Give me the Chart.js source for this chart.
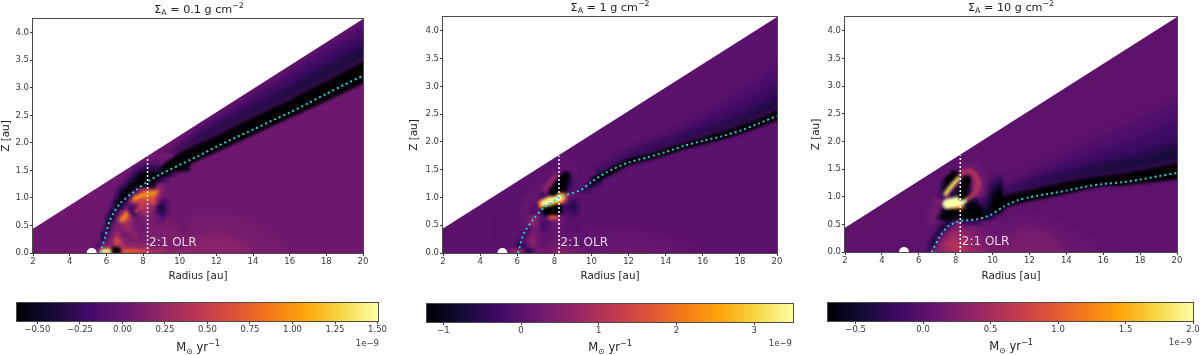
<!DOCTYPE html>
<html><head><meta charset="utf-8">
<script src="https://cdn.jsdelivr.net/npm/chart.js@4"></script>
<style>
html,body{margin:0;padding:0;background:#fff;width:1200px;height:355px;overflow:hidden}
.abs{position:absolute}
canvas{display:block}
</style></head><body>
<script>
// ---------- axes ----------
const radiusTicks=[2,4,6,8,10,12,14,16,18,20];
const heightTicks=[0,0.5,1,1.5,2,2.5,3,3.5,4];
const wedgeRadius=[2,20];
const wedgeTop=[0.44,4.25];
const olrRadius=[8.25,8.25];
const olrHeight=[0,1.75];
const planetRadius=[5.2];
const planetHeight=[0];
// ---------- colour map ----------
const infernoStops=['#000004','#160b39','#420a68','#6a176e','#932667','#bc3754','#dd513a','#f37819','#fca50a','#f6d746','#fcffa4'];
// ---------- colour bars ----------
const cbRange1=[-0.62,1.5];  const cbTicks1=[-0.5,-0.25,0,0.25,0.5,0.75,1,1.25,1.5];
const cbRange2=[-1.21,3.5];  const cbTicks2=[-1,0,1,2,3];
const cbRange3=[-0.705,2];   const cbTicks3=[-0.5,0,0.5,1,1.5,2];
// ---------- cell grids: mass flux in 1e-10 Msun/yr, columns from r=5 every 0.25 au, rows from z=0 every 0.1 au ----------
const grid1=[
[0,0,2,8,10,6,-3,4,7,7,6,6,5,4,3,3,3,2,2,2,2,2],
[0,0,-2,1,2,2,5,4,2,2,2,2,2,2,1,1,1,1,1,1,1,1],
[0,0,0,-3,0,2,6,3,1,1,1,1,1,1,1,1,1,1,1,1,1,1],
[0,0,0,-4,-1,1,3,1,0,1,2,0,1,1,1,1,1,1,1,1,1,1],
[0,0,0,-1,-4,0,1,1,2,2,1,0,0,1,1,1,1,1,1,1,0,0],
[0,0,0,0,-5,-1,1,2,3,2,0,0,0,1,1,0,0,1,1,0,0,0],
[0,0,0,0,-3,-5,1,4,6,3,0,0,1,1,1,0,-1,0,0],
[0,0,0,0,-1,-5,-2,2,4,-1,-3,1,3,2,1,-2,-3,-1,0],
[0,0,0,0,0,-2,-6,-3,0,-2,-1,3,4,3,2,-3,-4,-1,0],
[0,0,0,0,0,-1,-5,-6,-3,2,4,5,5,5,6,1,-2,-1,0],
[0,0,0,0,0,0,-2,-6,-6,-2,4,6,7,7,7,3,0,0],
[0,0,0,0,0,0,-1,-4,-6,-6,-3,2,5,4,2,4,1,0],
[0,0,0,0,0,0,0,-1,-3,-6,-6,-6,-5,-5,-5,1,1,0],
[0,0,0,0,0,0,0,0,-1,-3,-5,-6,-6,-6,-6,-5,-2,-1,0],
[0,0,0,0,0,0,0,0,0,-1,-3,-5,-6,-6,-6,-6,-6,-5,-3,-1,0,0],
[0,0,0,0,0,0,0,0,0,0,-1,-2,-3,-3,-3,-3,-2,-4,-6,-6,-6,-5],
[0,0,0,0,0,0,0,0,0,0,0,0,-1,-1,-1,-1,0,-1,-2,-3,-5,-6],
[0,0,0,0,0,0,0,0,0,0,0,0,0,0,0,0,0,0,0,-1,-2,-3]
];
const grid2=[
[0,0,3,6,8,3,-8,-2,3,2,3,4,5,5,4,4,4,3,3,2,2,2],
[0,0,0,0,-6,-4,1,5,3,1,2,3,3,3,3,2,1,1,1,1,1,1],
[0,0,0,0,-2,-1,3,6,2,1,1,1,2,2,2,1,1,1,1,1,1,1],
[0,0,0,0,0,-3,1,4,3,0,0,1,2,1,1,1,1,0,0],
[0,0,0,0,0,1,-3,2,3,-1,-1,1,1,1,0,0,0],
[0,0,0,0,0,1,3,6,4,-2,-2,0,3,2,0,0,0],
[0,0,0,0,0,1,1,7,4,0,-2,3,6,4,0,-1,-1,0],
[0,0,0,0,0,1,1,-2,0,-2,-6,-10,-10,-6,-2,-2,-4,-1,0],
[0,0,0,0,0,2,1,1,-2,-6,-8,-12,-12,-8,-3,-5,-6,-2,0],
[0,0,0,0,0,0,2,1,1,-2,8,14,14,14,6,-1,-4,-1,0],
[0,0,0,0,0,0,1,1,1,-3,-2,-6,4,14,14,1,0,0],
[0,0,0,0,0,0,0,1,1,2,3,-4,-10,-12,-10,-2,0,-2,-4,-3,0,0],
[0,0,0,0,0,0,0,0,1,1,2,3,-6,-12,-12,-5,-1,0,0,-6,-8,-3],
[0,0,0,0,0,0,0,0,0,1,1,2,3,-7,-10,-6,0,0,0,0,-6,-10],
[0,0,0,0,0,0,0,0,0,0,1,1,2,2,-4,-3,1,0,0,0,0,-4],
[0,0,0,0,0,0,0,0,0,0,0,0,0,1,1,1,1,0],
[0,0,0,0,0,0,0,0,0,0,0,0,0,0,1,1,0],
[0]
];
const grid3=[
[0,0,0,0,0,0,-3,2,3,4,5,5,6,6,5,4,4,3,3,2,2,2],
[0,0,0,0,0,0,-2,-4,3,4,5,6,6,5,4,4,3,3,2,2,2,2],
[0,0,0,0,0,0,0,-4,0,3,4,5,5,5,4,3,3,2,2,2,1,1],
[0,0,0,0,0,0,0,-1,-4,0,3,4,4,4,3,3,2,2,1,1,1,1],
[0,0,0,0,0,0,0,0,-2,-5,-1,2,3,3,2,2,2,1,1,1,1,1],
[0,0,0,0,0,0,1,1,0,-2,-5,-2,2,-1,-2,-2,-2,-1,0,0,1,1],
[0,0,0,0,0,0,1,2,-3,-7,-7,-7,-6,-7,-7,-7,-7,-7,-6,-4,-2,0],
[0,0,0,0,0,0,1,2,1,-6,-7,-7,-7,-7,-7,-7,-7,-7,-5,-6,-6,-4],
[0,0,0,0,0,0,0,1,1,-1,6,10,12,12,-5,-7,-7,-5,-3,-5,-7,-7],
[0,0,0,0,0,0,0,2,2,-2,2,8,12,14,-2,-5,-4,-1,-2,-4,-7,-7],
[0,0,0,0,0,0,0,0,-1,-2,1,-4,-4,-6,-7,-3,2,2,0,-4,-6,-7],
[0,0,0,0,0,0,0,0,0,-5,-3,-1,-5,-7,-7,-1,4,3,1,-2,-4,-6],
[0,0,0,0,0,0,0,0,0,-4,-6,-3,1,-3,-7,1,4,3,1,-1,-3,-4],
[0,0,0,0,0,0,0,0,0,0,-6,-7,-5,-1,1,3,3,2,0,0,-1,-2],
[0,0,0,0,0,0,0,0,0,0,0,-5,-3,1,2,2,2,1,1,0,0,0],
[0,0,0,0,0,0,0,0,0,0,0,0,0,1,1,1,1,1,0],
[0],
[0]
];
// ---------- narrow streaks (value in 1e-9 Msun/yr) ----------
const streakR1=[[5.78,6.28],[6.45,6.6],[7.5,7.95,8.7],[7.6,8.3],[6.85,7.1]];
const streakZ1=[[0.03,0.03],[0.05,0.05],[0.98,1.05,1.1],[0.75,0.95],[0.6,0.7]];
const streakV1=[1.45,-0.6,1.0,0.5,0.9];
const streakW1=[4,7,4,3,5];
const streakR2=[[7.4,7.8,8.35],[7.45,7.8,8.3],[7.55,8.2],[7.95,8.6],[7.5,8],[7.75,8.1]];
const streakZ2=[[0.88,0.94,1],[0.89,0.94,1],[0.76,0.78],[1.1,1.38],[1.15,1.38],[0.64,0.65]];
const streakV2=[2.3,3.5,-1.2,-1.2,0.8,1.6];
const streakW2=[10,6,9,9,3,4];
const streakR3=[[8.3,8.8,9.2,9.1,8.75],[7.45,7.8,8.15],[7.55,8,8.35],[7.5,7.95],[8.35,8.6]];
const streakZ3=[[1.42,1.47,1.3,1.1,0.98],[1.05,1.2,1.33],[0.87,0.9,0.95],[1.3,1.42],[1.02,1.3]];
const streakV3=[0.55,1.75,2,-0.7,-0.7];
const streakW3=[5,4,10,5,9];
// ---------- gap-edge tracer (cyan dotted line) ----------
const edgeR1=[5.66,5.9,6.2,6.75,7.65,8.27,8.9,10,11,12,13,14,15,16,17,18,19,20];
const edgeZ1=[0,0.25,0.6,0.9,1.15,1.3,1.42,1.6,1.76,1.93,2.09,2.24,2.4,2.55,2.72,2.89,3.06,3.22];
const edgeR2=[6.05,6.35,6.9,7.4,8.27,9.4,10,10.8,12,13,14,15,16,17,18,19,20];
const edgeZ2=[0,0.35,0.62,0.8,1,1.13,1.28,1.45,1.63,1.72,1.82,1.93,2.02,2.1,2.2,2.33,2.47];
const edgeR3=[6.7,7.15,7.6,8.24,9.14,9.9,10.6,11.4,12,13,14,15,16,17,18,19,20];
const edgeZ3=[0,0.28,0.47,0.56,0.59,0.67,0.82,0.94,0.99,1.05,1.11,1.18,1.23,1.26,1.31,1.37,1.43];
// ---------- outer band contours ----------
const bandR1=[9,10,11,12,13,14,15,16,17,18,19,20,21];
const bandLow1=[1.40,1.52,1.68,1.83,1.99,2.14,2.3,2.45,2.6,2.76,2.92,3.08,3.24];
const bandCore1=[1.58,1.82,1.98,2.13,2.3,2.46,2.62,2.78,2.96,3.12,3.3,3.48,3.66];
const bandMid1=[1.62,1.9,2.1,2.28,2.46,2.64,2.82,3.0,3.2,3.4,3.58,3.76,3.94];
const bandHaze1=[1.66,1.96,2.22,2.42,2.62,2.82,3.02,3.22,3.44,3.64,3.84,4.02,4.2];
const bandVeil1=[1.7,2.02,2.3,2.52,2.74,2.96,3.18,3.4,3.62,3.84,4.02,4.2,4.4];
const bandR2=[10,11,12,13,14,15,16,17,18,19,20,21];
const bandLow2=[1.24,1.4,1.58,1.67,1.76,1.87,1.96,2.04,2.14,2.26,2.38,2.5];
const bandCore2=[1.33,1.53,1.7,1.78,1.88,1.98,2.08,2.18,2.29,2.42,2.57,2.72];
const bandMid2=[1.36,1.58,1.76,1.86,1.96,2.08,2.2,2.32,2.46,2.62,2.8,2.98];
const bandHaze2=[1.38,1.62,1.82,1.94,2.06,2.2,2.34,2.5,2.68,2.88,3.1,3.32];
const bandVeil2=[1.4,1.66,1.88,2.02,2.16,2.32,2.5,2.7,2.92,3.14,3.4,3.66];
const bandR3=[10,11,12,13,14,15,16,17,18,19,20,21];
const bandLow3=[0.66,0.84,0.92,0.98,1.05,1.13,1.19,1.2,1.24,1.27,1.31,1.35];
const bandCore3=[0.95,1.05,1.12,1.2,1.27,1.33,1.38,1.42,1.48,1.54,1.6,1.66];
const bandMid3=[1,1.12,1.22,1.33,1.43,1.52,1.6,1.68,1.76,1.86,1.96,2.06];
const bandHaze3=[1.04,1.2,1.34,1.48,1.6,1.72,1.84,1.96,2.08,2.22,2.38,2.54];
const bandVeil3=[1.06,1.26,1.44,1.62,1.78,1.94,2.1,2.25,2.4,2.56,2.72,2.88];
// ---------- mid-plane glow ----------
const glowR=[9,10,11,12,13,14,15,16];
const glowZ1=[0.7,0.6,0.65,0.7,0.65,0.5,0.3,0.05];
const glowZ2=[0.5,0.45,0.45,0.45,0.4,0.3,0.2,0.05];
const glowZ3=[0.55,0.5,0.6,0.65,0.55,0.4,0.25,0.05];
const coreGlowR=[10,11,12,13,14];
const coreGlowZ1=[0.15,0.25,0.35,0.25,0.05];
const coreGlowZ2=[0.12,0.2,0.25,0.2,0.05];
const coreGlowZ3=[0.35,0.3,0.45,0.35,0.1];
// ---------- texts ----------
const title1=[['Σ',''],['A','sub'],[' = 0.1 g cm',''],['−2','sup']];
const title2=[['Σ',''],['A','sub'],[' = 1 g cm',''],['−2','sup']];
const title3=[['Σ',''],['A','sub'],[' = 10 g cm',''],['−2','sup']];
const fluxLabel=[['M',''],['⊙','sub'],[' yr',''],['−1','sup']];
const offsetText='1e−9';
const olrText='2:1 OLR';

const FONT='"DejaVu Sans"';
const INK='#3a3a3a';
const CLEAR='rgba(0,0,0,0)';
function hex(c){return [1,3,5].map(i=>parseInt(c.substr(i,2),16));}
function mapColor(t){
  t=Math.max(0,Math.min(1,t))*(infernoStops.length-1);
  const i=Math.min(Math.floor(t),infernoStops.length-2),f=t-i,a=hex(infernoStops[i]),b=hex(infernoStops[i+1]);
  return 'rgb('+a.map((v,k)=>Math.round(v+(b[k]-v)*f)).join(',')+')';
}
function pairs(xs,ys){return xs.map((x,i)=>({x,y:ys[i]}));}
function drawRich(ctx,segs,cx,y,size){
  const w=s=>{ctx.font=(s[1]?size*0.7:size)+'px '+FONT;return ctx.measureText(s[0]).width;};
  let x=cx-segs.reduce((a,s)=>a+w(s),0)/2;
  ctx.save();ctx.fillStyle='#222';ctx.textAlign='left';ctx.textBaseline='alphabetic';
  segs.forEach(s=>{const d=w(s);ctx.fillText(s[0],x,y+(s[1]==='sub'?size*0.22:s[1]==='sup'?-size*0.42:0));x+=d;});
  ctx.restore();
}
const framePlugin={id:'frame',afterDraw(c){const a=c.chartArea,x=c.ctx;x.save();x.strokeStyle='#4a4a4a';x.lineWidth=1;
  x.strokeRect(Math.round(a.left)-.5,Math.round(a.top)-.5,Math.round(a.width)+1,Math.round(a.height)+1);x.restore();}};

function place(el,l,t,w,h){el.className='abs';el.style.cssText+=`left:${l}px;top:${t}px;width:${w}px;height:${h}px;`;}
function makeCanvas(parent,w,h,blur){const c=document.createElement('canvas');c.width=w;c.height=h;c.style.width=w+'px';c.style.height=h+'px';if(blur)c.style.filter=`blur(${blur}px)`;parent.appendChild(c);return c;}

function heatPanel(p){
  const W=p.x1-p.x0,Hh=p.y1-p.y0,EX=14;
  const wrap=document.createElement('div');place(wrap,p.x0,p.y0,W,Hh);
  const span=p.range[1]-p.range[0],col=v=>mapColor((v-p.range[0])/span);
  wrap.style.overflow='hidden';wrap.style.background=col(p.base);document.body.appendChild(wrap);
  const xMax=20+EX*18/W,yMin=-EX*4.25/Hh;
  const opts={responsive:false,animation:false,devicePixelRatio:1,events:[],layout:{padding:0},plugins:{legend:{display:false},tooltip:{enabled:false}},
    scales:{x:{type:'linear',min:2,max:xMax,offset:false,display:false},y:{type:'linear',min:yMin,max:4.25,display:false}}};
  const line=(xs,ys,val,fill)=>({type:'line',data:pairs(xs,ys),borderColor:CLEAR,borderWidth:0,pointRadius:0,tension:0,fill:fill,backgroundColor:val===null?CLEAR:col(val)});
  // soft layer
  const softCv=makeCanvas(wrap,W+EX,Hh+EX,4);softCv.className='abs';softCv.style.left='0';softCv.style.top='0';
  const softSets=[
    line(glowR,p.glowZ,p.glowVals[0],{value:yMin}),
    line(coreGlowR,p.coreGlowZ,p.glowVals[1],{value:yMin}),
    line(p.bandR,p.veil,p.tierVals[0],{target:5}),
    line(p.bandR,p.haze,p.tierVals[1],{target:5}),
    line(p.bandR,p.mid,p.tierVals[2],{target:5}),
    line(p.bandR,p.core,null,false)
  ];
  softSets.forEach((d,i)=>{d.order=10-i;});
  new Chart(softCv,{type:'line',data:{datasets:softSets},options:JSON.parse(JSON.stringify(opts))});
  // fine layer
  const cv=makeCanvas(wrap,W+EX,Hh+EX,1.5);cv.className='abs';cv.style.left='0';cv.style.top='0';
  const cells=[];
  p.grid.forEach((row,j)=>row.forEach((v,i)=>{cells.push({x:5.125+0.25*i,y:[0.1*j,0.1*j+0.1],v:v===0?p.base:v/10});}));
  const datasets=[
    {type:'bar',data:cells,grouped:false,barPercentage:1,categoryPercentage:1,borderWidth:0,inflateAmount:1,backgroundColor:c=>c.raw?col(c.raw.v):'#000',order:30},
    Object.assign(line(p.bandR,p.core,p.range[0],{target:2}),{order:25}),
    Object.assign(line(p.bandR,p.low,null,false),{order:24})
  ];
  p.streakR.forEach((r,i)=>{datasets.push({type:'line',data:pairs(r,p.streakZ[i]),borderColor:col(p.streakV[i]),borderWidth:p.streakW[i],borderCapStyle:'round',borderJoinStyle:'round',pointRadius:0,tension:0.3,fill:false,order:20-i});});
  new Chart(cv,{type:'bar',data:{datasets},options:JSON.parse(JSON.stringify(opts))});
}
function axesPanel(p){
  const L=p.x0-p.left,R=12,H=290;
  const cv=makeCanvas(document.body,p.x1-p.left+R,H,0.35);place(cv,p.left,0,p.x1-p.left+R,H);
  const datasets=[
    {data:pairs(wedgeRadius,wedgeTop),fill:'end',backgroundColor:'#fff',borderColor:CLEAR,borderWidth:0,pointRadius:0,order:5,tension:0},
    {data:pairs(olrRadius,olrHeight),borderColor:'#ffffff',borderWidth:1.5,borderDash:[2,2],pointRadius:0,order:4},
    {data:pairs(p.edgeR,p.edgeZ),borderColor:'#22cfd2',borderWidth:2,borderDash:[2,3],pointRadius:0,order:3,tension:0.25},
    {data:pairs(planetRadius,planetHeight),showLine:false,pointRadius:5,pointBackgroundColor:'#fff',pointBorderWidth:0,order:2}
  ];
  const overlay={id:'texts',afterDraw(c){
    const x=c.ctx;x.save();x.font='12px '+FONT;x.fillStyle='rgba(240,228,240,.92)';x.textAlign='left';x.textBaseline='middle';
    x.fillText(olrText,c.scales.x.getPixelForValue(8.33),c.scales.y.getPixelForValue(0.18));x.restore();
    drawRich(x,p.title,p.titleX,p.titleY,11.2);
  }};
  new Chart(cv,{type:'line',data:{datasets},plugins:[framePlugin,overlay],options:{responsive:false,animation:false,devicePixelRatio:1,events:[],
    layout:{padding:{top:p.y0,right:R,left:0,bottom:0}},plugins:{legend:{display:false},tooltip:{enabled:false}},
    scales:{
      x:{type:'linear',min:2,max:20,afterFit:s=>{s.height=H-p.y1;},afterBuildTicks:s=>{s.ticks=radiusTicks.map(v=>({value:v}));},
        grid:{drawOnChartArea:false,tickLength:3,color:INK},border:{display:false},
        ticks:{font:{family:FONT,size:8.5},color:INK,padding:1,maxRotation:0,autoSkip:false,callback:v=>String(v)},
        title:{display:true,text:'Radius [au]',font:{family:FONT,size:10.4},color:'#222',padding:{top:2,bottom:7}}},
      y:{type:'linear',min:0,max:4.25,afterFit:s=>{s.width=L;},afterBuildTicks:s=>{s.ticks=heightTicks.map(v=>({value:v}));},
        grid:{drawOnChartArea:false,tickLength:3,color:INK},border:{display:false},
        ticks:{font:{family:FONT,size:8.5},color:INK,padding:1,autoSkip:false,callback:v=>v.toFixed(1)},
        title:{display:true,text:'Z [au]',font:{family:FONT,size:10.4},color:'#222',padding:{top:0,bottom:0}}}
    }}});
}
function barPanel(p){
  const pad=8,top=295,H=60,l=p.cb0-pad,w=p.cb1-p.cb0+2*pad;
  const cv=makeCanvas(document.body,w,H,0.35);place(cv,l,top,w,H);
  const grad=c=>{const a=c.chart.chartArea;if(!a)return infernoStops[5];const g=c.chart.ctx.createLinearGradient(a.left,0,a.right,0);
    infernoStops.forEach((s,i)=>g.addColorStop(i/(infernoStops.length-1),s));return g;};
  const labels={id:'cbText',afterDraw(c){const x=c.ctx;
    drawRich(x,fluxLabel,p.labelX-l,p.labelY-top,11.5);
    x.save();x.font='8.5px '+FONT;x.fillStyle=INK;x.textAlign='right';x.textBaseline='alphabetic';x.fillText(offsetText,p.cb1-l-1,p.offY-top);x.restore();}};
  new Chart(cv,{type:'bar',data:{labels:['flux'],datasets:[{data:[p.range],backgroundColor:grad,borderWidth:0,barPercentage:1,categoryPercentage:1,inflateAmount:0}]},
    plugins:[framePlugin,labels],options:{indexAxis:'y',responsive:false,animation:false,devicePixelRatio:1,events:[],
    layout:{padding:{top:p.cbTop-top,left:pad,right:pad,bottom:0}},plugins:{legend:{display:false},tooltip:{enabled:false}},
    scales:{
      y:{display:false},
      x:{type:'linear',min:p.range[0],max:p.range[1],afterFit:s=>{s.height=H-(p.cbTop-top)-18;},afterBuildTicks:s=>{s.ticks=p.ticks.map(v=>({value:v}));},
        grid:{drawOnChartArea:false,tickLength:3,color:INK},border:{display:false},
        ticks:{font:{family:FONT,size:8.5},color:INK,padding:1,maxRotation:0,autoSkip:false,callback:v=>v.toFixed(p.dec).replace('-','−')}}
    }}});
}
const panels=[
 {left:0,x0:33,x1:363,y0:19,y1:253,range:cbRange1,ticks:cbTicks1,dec:2,base:0.03,grid:grid1,
  glowZ:glowZ1,coreGlowZ:coreGlowZ1,glowVals:[0.08,0.18],tierVals:[-0.1,-0.22,-0.4],
  bandR:bandR1,low:bandLow1,core:bandCore1,mid:bandMid1,haze:bandHaze1,veil:bandVeil1,edgeR:edgeR1,edgeZ:edgeZ1,
  streakR:streakR1,streakZ:streakZ1,streakV:streakV1,streakW:streakW1,
  title:title1,titleX:199,titleY:13,cb0:17,cb1:380,cbTop:303,labelX:198,labelY:351,offY:346},
 {left:408,x0:443,x1:777,y0:17,y1:253,range:cbRange2,ticks:cbTicks2,dec:0,base:0.03,grid:grid2,
  glowZ:glowZ2,coreGlowZ:coreGlowZ2,glowVals:[0.1,0.2],tierVals:[-0.15,-0.35,-0.7],
  bandR:bandR2,low:bandLow2,core:bandCore2,mid:bandMid2,haze:bandHaze2,veil:bandVeil2,edgeR:edgeR2,edgeZ:edgeZ2,
  streakR:streakR2,streakZ:streakZ2,streakV:streakV2,streakW:streakW2,
  title:title2,titleX:610,titleY:11,cb0:427,cb1:793,cbTop:304,labelX:610,labelY:351,offY:346},
 {left:810,x0:845,x1:1177,y0:17,y1:252,range:cbRange3,ticks:cbTicks3,dec:1,base:0.02,grid:grid3,
  glowZ:glowZ3,coreGlowZ:coreGlowZ3,glowVals:[0.08,0.2],tierVals:[-0.08,-0.2,-0.42],
  bandR:bandR3,low:bandLow3,core:bandCore3,mid:bandMid3,haze:bandHaze3,veil:bandVeil3,edgeR:edgeR3,edgeZ:edgeZ3,
  streakR:streakR3,streakZ:streakZ3,streakV:streakV3,streakW:streakW3,
  title:title3,titleX:1011,titleY:11,cb0:828,cb1:1193,cbTop:303,labelX:1011,labelY:350,offY:345}
];
panels.forEach(p=>{p.titleX-=p.left;heatPanel(p);axesPanel(p);barPanel(p);});
</script>
</body></html>
